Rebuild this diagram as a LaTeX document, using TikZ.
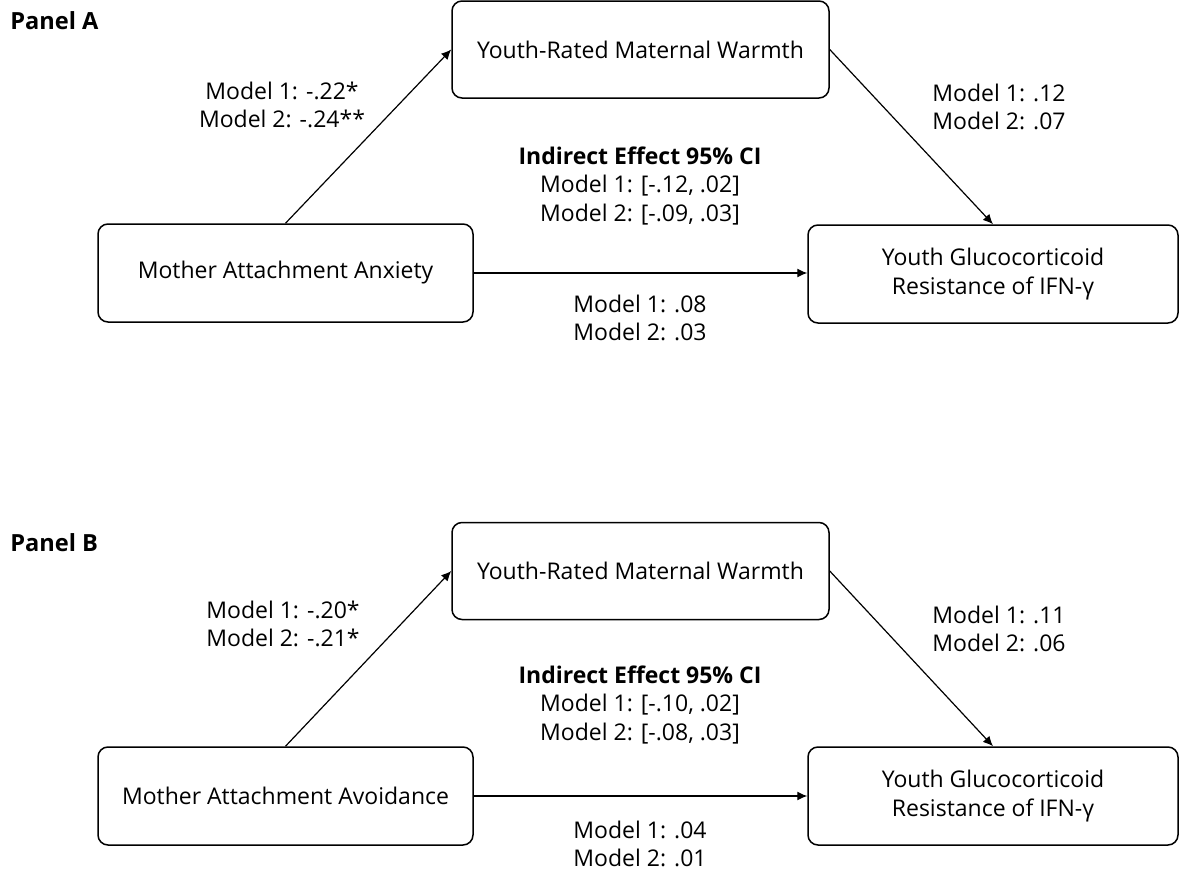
\documentclass[tikz,border=0pt]{standalone}
\usepackage{fontspec}
\setmainfont{Open Sans}
\usetikzlibrary{arrows.meta}
\tikzset{
  box/.style={draw, line width=0.75pt, rounded corners=5pt, align=center, font=\fontsize{11.5}{14.5}\selectfont, inner sep=0pt},
  lbl/.style={align=center, font=\fontsize{11.5}{14.3}\selectfont, inner sep=0pt},
  ttl/.style={anchor=west, font=\fontsize{11.8}{14.5}\selectfont\bfseries, inner sep=0pt},
  arr/.style={line width=0.6pt, -{Latex[length=5pt,width=4.5pt]}}
}
\begin{document}
\begin{tikzpicture}[x=0.5pt,y=-0.5pt]
\useasboundingbox (0,0) rectangle (1180,873);
% Panel A
\node[ttl] (pa) at (10,21) {Panel A};
\node[box, minimum width=188.5pt, minimum height=48.5pt] (ma) at (640.5,49.5) {Youth-Rated Maternal Warmth};
\node[box, minimum width=187.5pt, minimum height=49pt] (xa) at (285.5,273) {Mother Attachment Anxiety};
\node[box, minimum width=185pt, minimum height=49pt] (ya) at (993,274) {Youth Glucocorticoid\\Resistance of IFN-γ};
\draw[arr] (xa.north) -- (ma.west);
\draw[arr] (ma.east) -- (ya.north);
\draw[arr] (xa.east) -- (ya.west |- xa.east);
\node[lbl] (la1) at (282,105) {Model 1: -.22*\\Model 2: -.24**};
\node[lbl] (la2) at (999,107) {Model 1: .12\\Model 2: .07};
\node[lbl] (la3) at (640,186) {\textbf{Indirect Effect 95\% CI}\\Model 1: [-.12, .02]\\Model 2: [-.09, .03]};
\node[lbl] (la4) at (640,318) {Model 1: .08\\Model 2: .03};
% Panel B
\node[ttl] (pb) at (10,543) {Panel B};
\node[box, minimum width=188.5pt, minimum height=48.5pt] (mb) at (640.5,571) {Youth-Rated Maternal Warmth};
\node[box, minimum width=187.5pt, minimum height=49pt] (xb) at (285.5,796) {Mother Attachment Avoidance};
\node[box, minimum width=185pt, minimum height=49pt] (yb) at (993,796) {Youth Glucocorticoid\\Resistance of IFN-γ};
\draw[arr] (xb.north) -- (mb.west);
\draw[arr] (mb.east) -- (yb.north);
\draw[arr] (xb.east) -- (yb.west |- xb.east);
\node[lbl] (lb1) at (283,624) {Model 1: -.20*\\Model 2: -.21*};
\node[lbl] (lb2) at (999,629) {Model 1: .11\\Model 2: .06};
\node[lbl] (lb3) at (640,705) {\textbf{Indirect Effect 95\% CI}\\Model 1: [-.10, .02]\\Model 2: [-.08, .03]};
\node[lbl] (lb4) at (640,844) {Model 1: .04\\Model 2: .01};
\end{tikzpicture}
\end{document}
